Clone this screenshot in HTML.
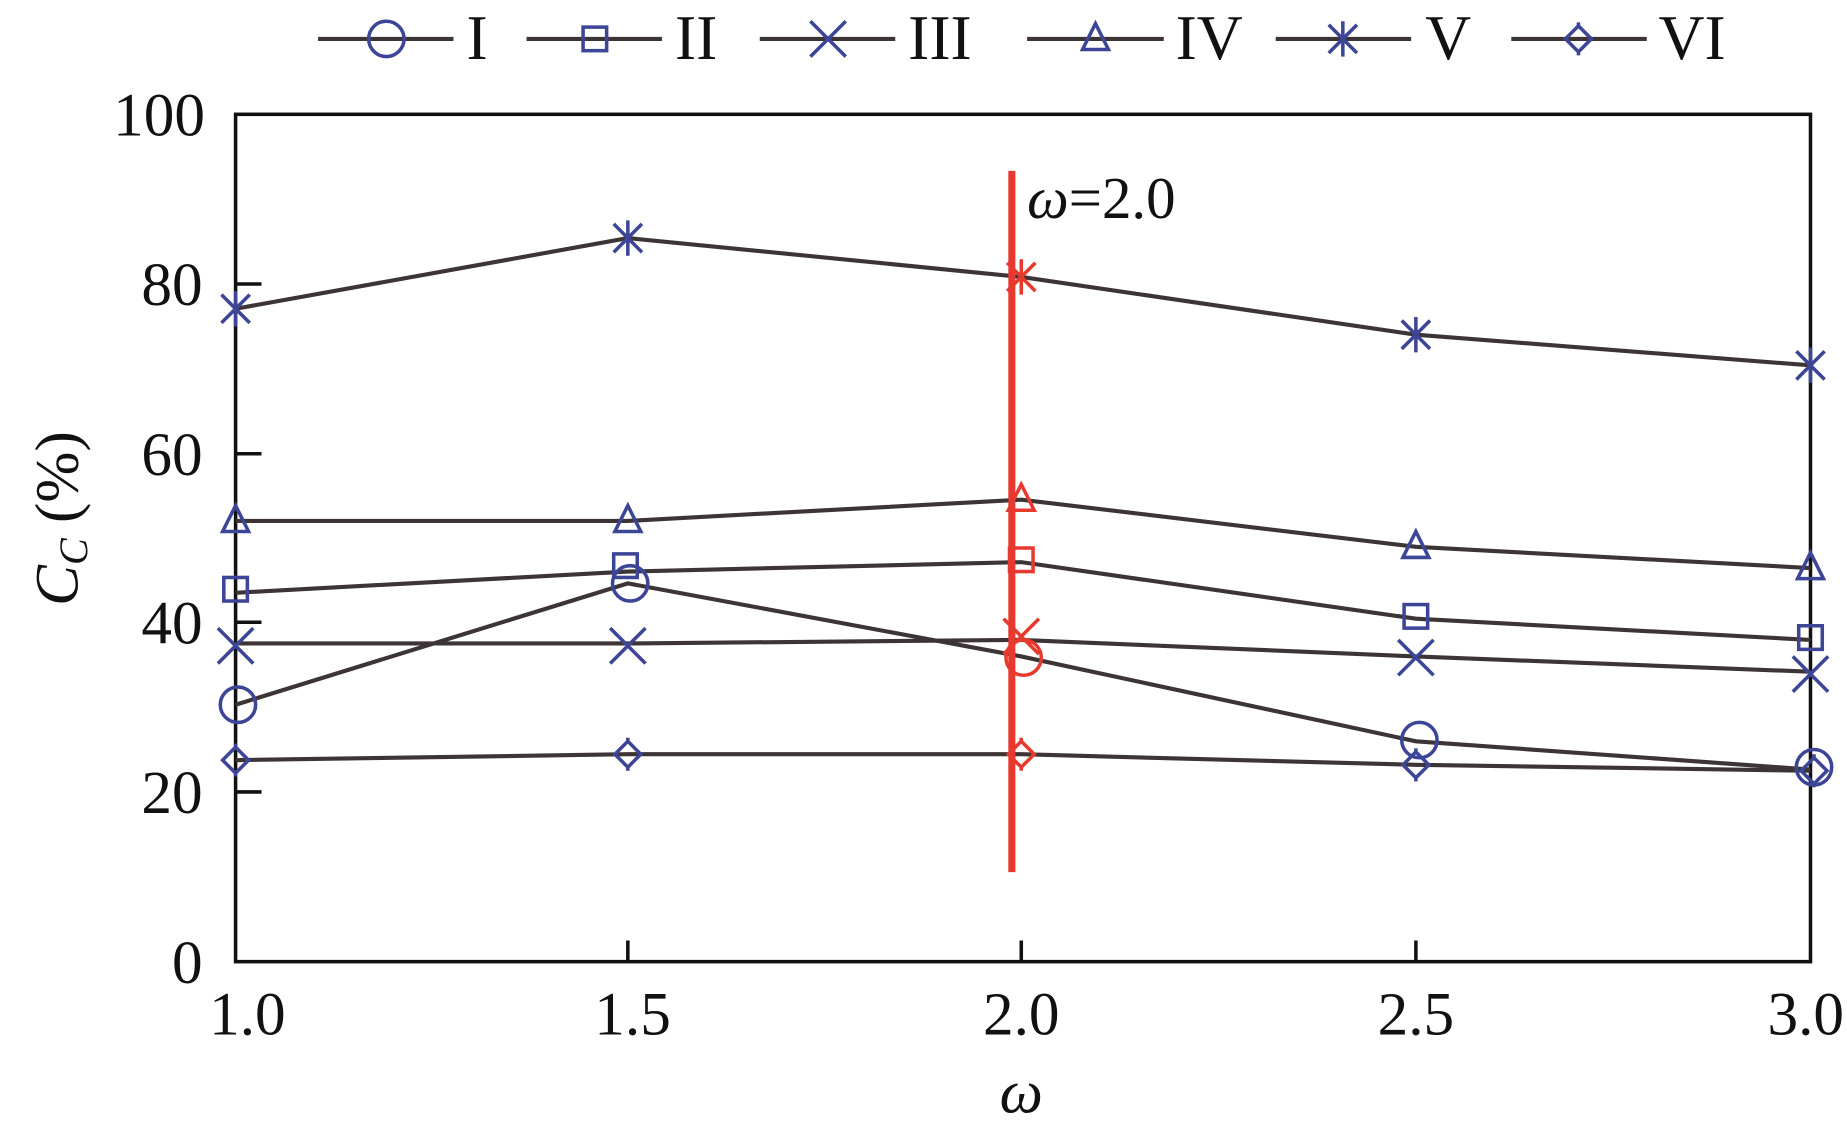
<!DOCTYPE html>
<html><head><meta charset="utf-8"><style>
html,body{margin:0;padding:0;background:#fff;}
svg{display:block;}
svg text{font-family:"Liberation Serif","Times New Roman",Times,serif;fill:#111;}
</style></head><body>
<svg width="1847" height="1129" viewBox="0 0 1568 958" preserveAspectRatio="none" xmlns="http://www.w3.org/2000/svg" font-family="Liberation Serif, Times New Roman, serif">
<defs>
<g id="mO"><circle r="15" fill="none" stroke="currentColor" stroke-width="3"/></g>
<g id="mS"><rect x="-10" y="-10" width="20" height="20" fill="none" stroke="currentColor" stroke-width="3"/></g>
<g id="mX"><path d="M-15,-15L15,15M-15,15L15,-15" stroke="currentColor" stroke-width="3"/></g>
<g id="mT"><path d="M0,-13L11,9L-11,9Z" fill="none" stroke="currentColor" stroke-width="3"/></g>
<g id="mA"><path d="M-12,-12L12,12M-12,12L12,-12M0,-15L0,15" stroke="currentColor" stroke-width="3"/></g>
<g id="mD"><path d="M0,-11L11,0L0,11L-11,0Z M0,-14L0,-11M0,11L0,14" fill="none" stroke="currentColor" stroke-width="3"/></g>
</defs>
<rect x="200" y="97" width="1337" height="719" fill="none" stroke="#111" stroke-width="3"/>
<g stroke="#111" stroke-width="3">
<path d="M200,672h22M200,528h22M200,385h22M200,241h22"/>
<path d="M533,816v-18M867,816v-18M1202,816v-18"/>
</g>
<g font-size="52" text-anchor="end">
<text x="172" y="834">0</text><text x="172" y="690">20</text><text x="172" y="546">40</text><text x="172" y="403">60</text><text x="172" y="259">80</text><text x="174" y="115">100</text>
</g>
<g font-size="52" text-anchor="middle">
<text x="210" y="878">1.0</text><text x="537" y="878">1.5</text><text x="867" y="878">2.0</text><text x="1202" y="878">2.5</text><text x="1533" y="878">3.0</text>
<text x="867" y="944" font-style="italic">ω</text>
</g>
<text transform="translate(66,440) rotate(-90)" font-size="52" text-anchor="middle"><tspan font-style="italic">C</tspan><tspan font-style="italic" font-size="34" dy="8">C</tspan><tspan dy="-8"> (%)</tspan></text>
<g fill="none" stroke="#3d3535" stroke-width="3.5">
<polyline points="200,262 533,202 867,235 1202,284 1537,310"/>
<polyline points="200,442 533,442 867,424 1202,464 1537,482"/>
<polyline points="200,503 533,485 867,477 1202,525 1537,543"/>
<polyline points="200,598 533,495 867,557 1202,629 1537,653"/>
<polyline points="200,546 533,546 867,543 1202,557 1537,570"/>
<polyline points="200,645 533,640 867,640 1202,649 1537,654"/>
</g>
<line x1="859" y1="145" x2="859" y2="740" stroke="#e8392e" stroke-width="6"/>
<text x="872" y="185" font-size="50"><tspan font-style="italic">ω</tspan>=2.0</text>
<g color="#3d4596">
<use href="#mA" x="200" y="262"/><use href="#mA" x="533" y="202"/><use href="#mA" x="1202" y="284"/><use href="#mA" x="1537" y="310"/>
<use href="#mT" x="200" y="442"/><use href="#mT" x="533" y="442"/><use href="#mT" x="1202" y="464"/><use href="#mT" x="1537" y="482"/>
<use href="#mS" x="200" y="500"/><use href="#mS" x="531" y="480"/><use href="#mS" x="1202" y="523"/><use href="#mS" x="1537" y="541"/>
<use href="#mO" x="202" y="598"/><use href="#mO" x="535" y="495"/><use href="#mO" x="1205" y="628"/><use href="#mO" x="1540" y="651"/>
<use href="#mX" x="200" y="548"/><use href="#mX" x="533" y="548"/><use href="#mX" x="1202" y="558"/><use href="#mX" x="1537" y="572"/>
<use href="#mD" x="200" y="645"/><use href="#mD" x="533" y="640"/><use href="#mD" x="1202" y="649"/><use href="#mD" x="1540" y="654"/>
</g>
<g color="#e8392e">
<use href="#mA" x="867" y="235"/><use href="#mT" x="867" y="424"/><use href="#mS" x="867" y="475"/>
<use href="#mO" x="869" y="558"/><use href="#mX" x="867" y="540"/><use href="#mD" x="867" y="640"/>
</g>
<g stroke="#3d3535" stroke-width="3.5">
<path d="M270,33h115M447,33h115M645,33h115M872,33h116M1083,33h115M1283,33h115"/>
</g>
<g color="#3d4596">
<use href="#mO" x="328" y="33"/><use href="#mS" x="505" y="33"/><use href="#mX" x="703" y="33"/>
<use href="#mT" x="930" y="33"/><use href="#mA" x="1140" y="33"/><use href="#mD" x="1340" y="33"/>
</g>
<g font-size="54">
<text x="396" y="50">I</text><text x="573" y="50">II</text><text x="771" y="50">III</text>
<text x="998" y="50">IV</text><text x="1210" y="50">V</text><text x="1408" y="50">VI</text>
</g>
</svg>
</body></html>
